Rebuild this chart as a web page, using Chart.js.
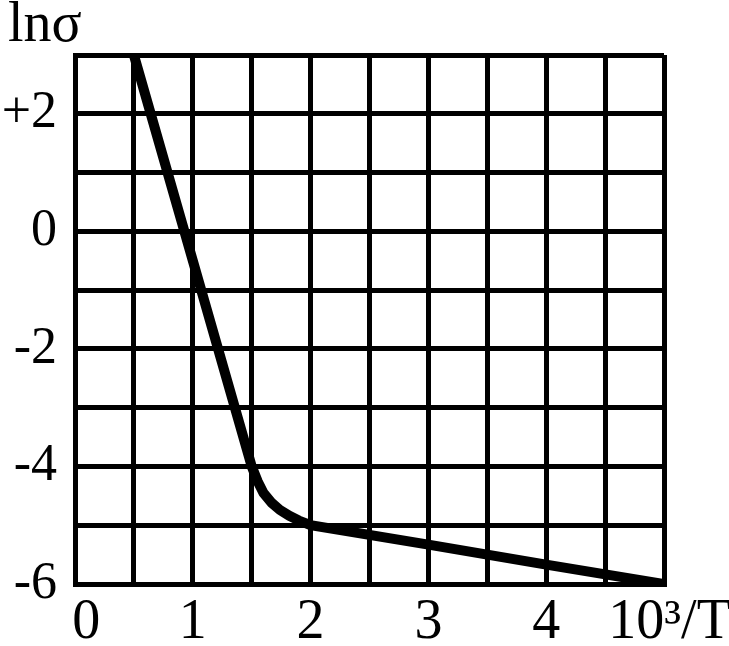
<!DOCTYPE html>
<html>
<head>
<meta charset="utf-8">
<script src="https://cdn.jsdelivr.net/npm/chart.js@4.4.1/dist/chart.umd.min.js"></script>
<style>
  html, body { margin: 0; padding: 0; background: #fff; }
  #wrap { width: 729px; height: 646px; }
</style>
</head>
<body>
<div id="wrap"><canvas id="lnChart"></canvas></div>
<script>
// 10^3/T values and ln(sigma)
var xValues = [0.5, 1.0, 1.5, 1.55, 1.6, 1.67, 1.74, 1.82, 1.9, 2.0, 3.0, 4.0, 5.0];
var yValues = [3.0, -0.5, -4.0, -4.25, -4.45, -4.62, -4.74, -4.84, -4.92, -5.0, -5.33, -5.67, -6.0];
var xTickLabels = ['\u2009\u20090', '1', '2', '3', '4', '\u200910\u00B3/T'];
var yTickLabels = { '-6': '-6', '-4': '-4', '-2': '-2', '0': '0', '2': '+2' };

var points = xValues.map(function (x, i) { return { x: x, y: yValues[i] }; });
var serif = '"Liberation Serif", "DejaVu Serif", serif';

var yTitle = {
    id: 'yTitle',
    afterDraw: function (chart) {
        var c = chart.ctx;
        c.save();
        c.fillStyle = '#000';
        c.font = '56px ' + serif;
        c.textBaseline = 'alphabetic';
        c.textAlign = 'left';
        c.fillText('ln\u03C3', 8, 41);
        c.restore();
    }
};

var ctx1 = document.getElementById('lnChart').getContext('2d');
var lnChart = new Chart(ctx1, {
    type: 'line',
    data: {
        datasets: [{
            data: points,
            borderColor: '#000',
            borderWidth: 10,
            pointRadius: 0,
            tension: 0,
            fill: false
        }]
    },
    plugins: [yTitle],
    options: {
        responsive: true,
        maintainAspectRatio: false,
        animation: false,
        layout: { padding: { top: 55, right: 65, left: 0, bottom: 0 } },
        plugins: { legend: { display: false }, tooltip: { enabled: false } },
        scales: {
            x: {
                type: 'linear',
                min: 0,
                max: 5,
                afterFit: function (s) { s.height = 62; s.paddingRight = 0; s.paddingLeft = 0; },
                afterBuildTicks: function (s) {
                    s.ticks = [];
                    for (var i = 0; i <= 10; i++) s.ticks.push({ value: i * 0.5 });
                },
                grid: { color: '#000', lineWidth: 5, drawTicks: false },
                border: { color: '#000', width: 5 },
                ticks: {
                    autoSkip: false,
                    maxRotation: 0,
                    padding: 6,
                    color: '#000',
                    font: { family: serif, size: 56 },
                    callback: function (v) {
                        return Number.isInteger(v) ? xTickLabels[v] : '';
                    }
                }
            },
            y: {
                min: -6,
                max: 3,
                afterFit: function (s) { s.width = 75; },
                grid: { color: '#000', lineWidth: 5, drawTicks: false },
                border: { color: '#000', width: 5 },
                ticks: {
                    stepSize: 1,
                    autoSkip: false,
                    padding: 18,
                    color: '#000',
                    font: { family: serif, size: 52 },
                    callback: function (v) {
                        return yTickLabels[String(v)] || '';
                    }
                }
            }
        }
    }
});
</script>
</body>
</html>
